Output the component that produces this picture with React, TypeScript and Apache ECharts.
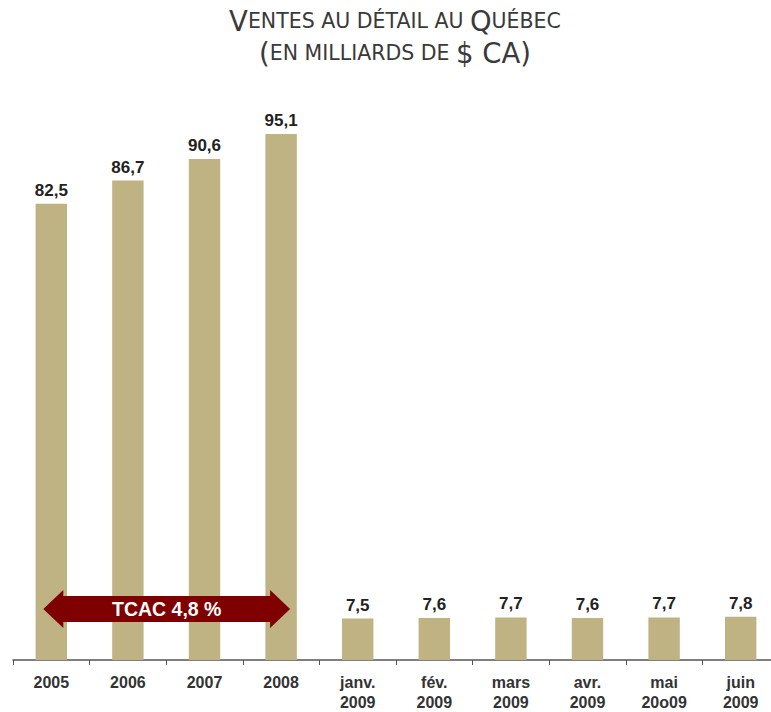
import React, { useEffect, useRef } from "react";
import * as echarts from "echarts";

const categories = ["2005", "2006", "2007", "2008", "janv.\n2009", "fév.\n2009", "mars\n2009", "avr.\n2009", "mai\n20o09", "juin\n2009"];
const values = [82.5, 86.7, 90.6, 95.1, 7.5, 7.6, 7.7, 7.6, 7.7, 7.8];
const arrowFrom = 0;
const arrowTo = 3;
const arrowLevel = 9.2;
const arrowLabel = "TCAC 4,8 %";

export default function App() {
  const ref = useRef<HTMLDivElement>(null);
  useEffect(() => {
    const chart = echarts.init(ref.current!, undefined, { renderer: "svg" });
    const bar = "#BFB283";
    chart.setOption({
      animation: false,
      backgroundColor: "#ffffff",
      title: {
        left: 390,
        textAlign: "center",
        top: 0,
        text: "{big|V}{sm|ENTES AU DÉTAIL AU }{big|Q}{sm|UÉBEC}\n{big|(}{sm|EN MILLIARDS DE }{big|$ CA)}",
        textStyle: {
          fontWeight: "normal",
          rich: {
            big: { fontFamily: "DejaVu Sans", fontWeight: "normal", fontSize: 27.5, color: "#3a3a3a", lineHeight: 32 },
            sm: { fontFamily: "DejaVu Sans", fontWeight: "normal", fontSize: 20.5, color: "#3a3a3a", lineHeight: 32 },
          },
        },
      },
      grid: { left: 13, width: 766, top: 107, bottom: 50, containLabel: false },
      xAxis: {
        type: "category",
        data: categories,
        axisLine: { lineStyle: { color: "#555", width: 1.5 } },
        axisTick: { show: true, length: 5, lineStyle: { color: "#555" } },
        axisLabel: {
          interval: 0,
          fontFamily: "Liberation Sans",
          fontWeight: "bold",
          fontSize: 16,
          color: "#333",
          lineHeight: 20,
          margin: 12,
        },
      },
      yAxis: { type: "value", min: 0, max: 100, show: false, splitLine: { show: false } },
      series: [
        {
          type: "bar",
          data: values,
          barWidth: "41%",
          itemStyle: { color: bar },
          label: {
            show: true,
            position: "top",
            distance: 5,
            fontFamily: "Liberation Sans",
            fontWeight: "bold",
            fontSize: 17,
            color: "#222",
            formatter: (p: any) => String(p.value.toFixed(1)).replace(".", ","),
          },
        },
      ],
    });
    const a = chart.convertToPixel({ xAxisIndex: 0, yAxisIndex: 0 }, [arrowFrom, arrowLevel]) as number[];
    const b = chart.convertToPixel({ xAxisIndex: 0, yAxisIndex: 0 }, [arrowTo, arrowLevel]) as number[];
    const x1 = a[0] - 8;
    const x2 = b[0] + 9;
    const y = a[1];
    const hl = 20, hh = 19, bh = 13;
    chart.setOption({
      graphic: [
        {
          type: "polygon",
          shape: {
            points: [
              [x1, y],
              [x1 + hl, y - hh],
              [x1 + hl, y - bh],
              [x2 - hl, y - bh],
              [x2 - hl, y - hh],
              [x2, y],
              [x2 - hl, y + hh],
              [x2 - hl, y + bh],
              [x1 + hl, y + bh],
              [x1 + hl, y + hh],
            ],
          },
          style: { fill: "#7F0000" },
          z: 10,
        },
        {
          type: "text",
          x: (x1 + x2) / 2,
          y: y,
          style: {
            text: arrowLabel,
            fill: "#fff",
            fontFamily: "Liberation Sans",
            fontWeight: "bold",
            fontSize: 19.5,
            align: "center",
            verticalAlign: "middle",
          },
          z: 11,
        },
      ],
    });
    return () => chart.dispose();
  }, []);
  return (
    <div style={{ width: 771, height: 712, position: "absolute", left: 0, top: 0, overflow: "hidden" }}>
      <div ref={ref} style={{ width: 782, height: 712 }} />
    </div>
  );
}
